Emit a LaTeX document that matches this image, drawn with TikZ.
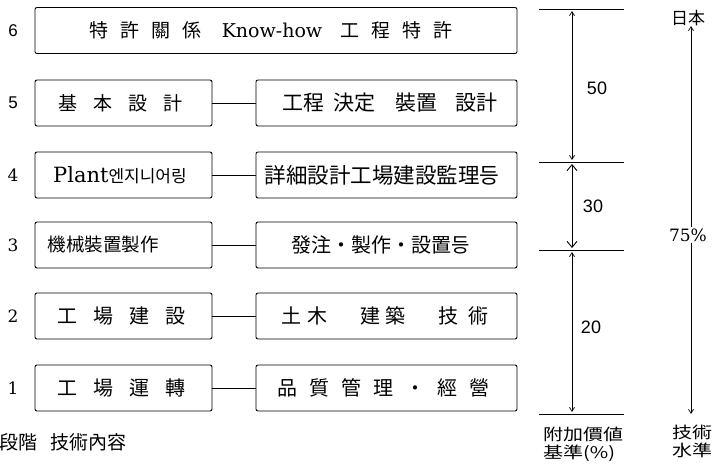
\documentclass[tikz,border=0pt]{standalone}
\usepackage{fontspec}
\newfontfamily\kr{Noto Sans CJK KR}
\newfontfamily\krw[FakeStretch=1.25]{Noto Sans CJK KR}
\newfontfamily\hv{Liberation Sans}
\newfontfamily\sr{DejaVu Serif}
\usetikzlibrary{arrows.meta}
\newcommand\gp[1]{\hspace{#1pt}}
\tikzset{
  stagebox/.style={draw, line width=0.9pt, rounded corners=2pt, minimum height=46pt, inner sep=0pt},
  leftbox/.style={stagebox, minimum width=177pt},
  rightbox/.style={stagebox, minimum width=261pt},
  wide/.style={stagebox, minimum width=482pt},
  numlab/.style={font=\fontsize{17}{17}\selectfont\sr, inner sep=0pt},
  numsans/.style={font=\fontsize{17}{17}\selectfont\hv, inner sep=0pt},
  cjk/.style={font=\fontsize{#1}{#1}\selectfont\kr, inner sep=0pt},
  cjkw/.style={font=\fontsize{16}{17.5}\selectfont\krw, inner sep=0pt, align=left},
  link/.style={line width=0.9pt},
  refline/.style={line width=0.9pt},
  thinarrow/.style={line width=0.7pt, {Straight Barb[length=4pt,width=5pt]}-{Straight Barb[length=4pt,width=5pt]}},
  bigarrow/.style={line width=0.9pt, {Straight Barb[length=6pt,width=10pt]}-{Straight Barb[length=6pt,width=10pt]}},
  pct/.style={font=\fontsize{18}{18}\selectfont\hv, inner sep=0pt}
}
\begin{document}
\begin{tikzpicture}[x=1pt,y=-1pt]
\useasboundingbox (0,0) rectangle (714,468);
% row 6
\node[wide] (b6) at (276,30.5) {};
\node[inner sep=0pt] (t6) at (271,30.5) {{\fontsize{19}{19}\selectfont\kr 特\gp{12}許\gp{12}關\gp{12}係}\gp{20}{\fontsize{19}{19}\selectfont\sr Know-how}\gp{18}{\fontsize{19}{19}\selectfont\kr 工\gp{12}程\gp{12}特\gp{12}許}};
% row 5
\node[leftbox] (l5) at (123.5,103) {};
\node[rightbox] (r5) at (386.5,103) {};
\node[cjk=19] (tl5) at (120.5,103) {基\gp{16}本\gp{16}設\gp{16}計};
\node[cjk=21] (tr5) at (390,103) {工程\gp{9}決定\gp{20}裝置\gp{18}設計};
% row 4
\node[leftbox] (l4) at (123.5,175) {};
\node[rightbox] (r4) at (386.5,175) {};
\node[inner sep=0pt] (tl4) at (120,175) {{\fontsize{21}{21}\selectfont\sr Plant}{\fontsize{17}{17}\selectfont\kr 엔지니어링}};
\node[cjk=21.5] (tr4) at (382,175) {詳細設計工場建設監理등};
% row 3
\node[leftbox] (l3) at (123.5,245) {};
\node[rightbox] (r3) at (386.5,245) {};
\node[cjk=18.5] (tl3) at (103,245) {機械裝置製作};
\node[cjk=20] (tr3) at (381,245) {發注・製作・設置등};
% row 2
\node[leftbox] (l2) at (123.5,316) {};
\node[rightbox] (r2) at (386.5,316) {};
\node[cjk=20] (tl2) at (121.5,316) {工\gp{16}場\gp{16}建\gp{16}設};
\node[cjk=20] (tr2) at (385,316) {土\gp{6}木\gp{33}建\gp{5}築\gp{33}技\gp{10}術};
% row 1
\node[leftbox] (l1) at (123.5,388) {};
\node[rightbox] (r1) at (386.5,388) {};
\node[cjk=20] (tl1) at (121.5,388) {工\gp{16}場\gp{16}運\gp{16}轉};
\node[cjk=20] (tr1) at (383,388) {品\gp{12}質\gp{12}管\gp{12}理\gp{12}・\gp{12}經\gp{12}營};
% links
\foreach \r in {5,4,3,2,1} \draw[link] (l\r.east) -- (r\r.west);
% stage numbers
\node[numsans] (n6) at (13,30.5) {6};
\node[numsans] (n5) at (13,103) {5};
\node[numlab] (n4) at (13,175) {4};
\node[numlab] (n3) at (13,245) {3};
\node[numlab] (n2) at (13,316) {2};
\node[numlab] (n1) at (13,388) {1};
% bottom labels
\node[cjk=19, anchor=east] (stage) at (38,442) {段階};
\node[cjk=19, anchor=west] (content) at (50,442) {技術內容};
% value-added scale
\coordinate (h0a) at (539,9);   \coordinate (h0b) at (624,9);
\coordinate (h1a) at (539,162); \coordinate (h1b) at (624,162);
\coordinate (h2a) at (539,250); \coordinate (h2b) at (624,250);
\coordinate (h3a) at (539,414); \coordinate (h3b) at (624,414);
\draw[refline] (h0a) -- (h0b);
\draw[refline] (h1a) -- (h1b);
\draw[refline] (h2a) -- (h2b);
\draw[refline] (h3a) -- (h3b);
\coordinate (a50t) at (572,11); \coordinate (a50b) at (572,160);
\coordinate (a30t) at (572,164); \coordinate (a30b) at (572,248);
\coordinate (a20t) at (572,252); \coordinate (a20b) at (572,412);
\draw[thinarrow] (a50t) -- (a50b);
\draw[bigarrow] (a30t) -- (a30b);
\draw[thinarrow] (a20t) -- (a20b);
\node[pct] (p50) at (597,88) {50};
\node[pct] (p30) at (593,206) {30};
\node[pct] (p20) at (591,327) {20};
\node[cjkw, anchor=north west] (vlab) at (543,427) {附加價値\\基準(\%)};
% technology level
\node[cjk=17] (jp) at (688,18) {日本};
\node[inner sep=1pt, font=\fontsize{17}{17}\selectfont\sr] (p75) at (688,235) {75\%};
\node[cjkw, anchor=north west] (tlab) at (672,425) {技術\\水準};
\coordinate (t75b) at (691,414);
\draw[line width=0.7pt, -{Straight Barb[length=4pt,width=5pt]}] (p75.north -| t75b) -- (jp.south -| t75b);
\draw[line width=0.7pt, -{Straight Barb[length=4pt,width=5pt]}] (p75.south -| t75b) -- (t75b);
\end{tikzpicture}
\end{document}
